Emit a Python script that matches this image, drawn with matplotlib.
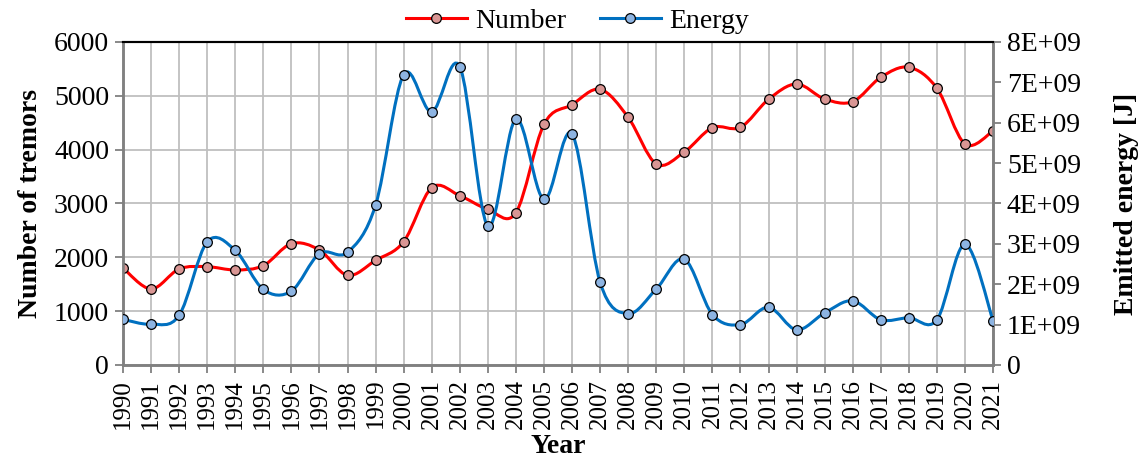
import numpy as np
import matplotlib
matplotlib.use("Agg")
import matplotlib.pyplot as plt
from matplotlib.path import Path
from matplotlib.patches import PathPatch
from matplotlib.lines import Line2D
from matplotlib.ticker import FuncFormatter

plt.rcParams.update({
    "font.family": "Liberation Serif", "font.size": 20,
})

RED = "#FF0000"
RED_FACE = "#D99694"
BLUE = "#0070C0"
BLUE_FACE = "#8DB4E2"
GRID = "#BFBFBF"
SPINE = "#808080"

years = list(range(1990, 2022))
number = [1802, 1412, 1783, 1826, 1765, 1845, 2254, 2136, 1666, 1944,
          2290, 3294, 3145, 2892, 2830, 4470, 4836, 5121, 4600, 3734,
          3957, 4409, 4415, 4935, 5220, 4941, 4892, 5344, 5530, 5140,
          4105, 4347]
energy = [1.13e9, 1.01e9, 1.23e9, 3.05e9, 2.84e9, 1.87e9, 1.83e9, 2.76e9,
          2.79e9, 3.96e9, 7.19e9, 6.27e9, 7.39e9, 3.44e9, 6.09e9, 4.10e9,
          5.72e9, 2.05e9, 1.27e9, 1.88e9, 2.62e9, 1.25e9, 1.00e9, 1.43e9,
          0.87e9, 1.29e9, 1.59e9, 1.12e9, 1.17e9, 1.12e9, 2.99e9, 1.10e9]


def smooth_path(x, y):
    # Excel-like smoothed line: cubic Bezier through each point
    p = np.column_stack([x, y]).astype(float)
    n = len(p)
    verts = [p[0]]
    codes = [Path.MOVETO]
    for i in range(n - 1):
        p0 = p[i - 1] if i > 0 else p[i]
        p3 = p[i + 2] if i + 2 < n else p[i + 1]
        c1 = p[i] + (p[i + 1] - p0) / 6
        c2 = p[i + 1] - (p3 - p[i]) / 6
        verts += [c1, c2, p[i + 1]]
        codes += [Path.CURVE4] * 3
    return Path(verts, codes)


fig = plt.figure(figsize=(11.43, 4.63), dpi=100)
ax = fig.add_axes([0.1076, 0.2117, 0.7612, 0.6976])
ax2 = ax.twinx()

ax.add_patch(PathPatch(smooth_path(years, number), facecolor="none",
                       edgecolor=RED, lw=2.2, zorder=3))
ax.plot(years, number, "o", ms=7, mfc=RED_FACE, mec="black", mew=0.9, zorder=4)

ax2.add_patch(PathPatch(smooth_path(years, energy), facecolor="none",
                        edgecolor=BLUE, lw=2.2, zorder=3))
ax2.plot(years, energy, "o", ms=7, mfc=BLUE_FACE, mec="black", mew=0.9, zorder=4)

ax.set_xlim(1990, 2021)
ax.set_ylim(0, 6000)
ax2.set_ylim(0, 8e9)
ax.set_xticks(years)
ax.set_xticklabels([str(y) for y in years], rotation=90)
ax.set_yticks(range(0, 6001, 1000))
ax2.set_yticks(np.arange(0, 8.01e9, 1e9))
ax2.yaxis.set_major_formatter(FuncFormatter(
    lambda v, pos: "0" if v == 0 else f"{v / 1e9:.0f}E+09"))

ax.grid(True, color=GRID, lw=1.3)
ax.set_axisbelow(True)

for a in (ax, ax2):
    for side in ("left", "right", "bottom"):
        a.spines[side].set_color(SPINE)
        a.spines[side].set_linewidth(1.8)
    a.spines["top"].set_color("black")
    a.spines["top"].set_linewidth(1.5)
    a.tick_params(color=SPINE, width=1.3, length=6, labelsize=20, pad=4)
ax.tick_params(axis="x", labelsize=18, pad=4)

ax.set_xlabel("Year", fontweight="bold", fontsize=20, labelpad=4)
ax.set_ylabel("Number of tremors", fontweight="bold", fontsize=20, labelpad=8)
ax2.set_ylabel("Emitted energy [J]", fontweight="bold", fontsize=20, labelpad=24)

handles = [
    Line2D([], [], color=RED, lw=2.2, marker="o", ms=7, mfc=RED_FACE, mec="black", mew=0.9),
    Line2D([], [], color=BLUE, lw=2.2, marker="o", ms=7, mfc=BLUE_FACE, mec="black", mew=0.9),
]
fig.legend(handles, ["Number", "Energy"], loc="center", bbox_to_anchor=(0.505, 0.955),
           ncol=2, frameon=False, fontsize=20, handlelength=2.2,
           handletextpad=0.3, columnspacing=1.2)

fig.savefig("out.png", dpi=100)
